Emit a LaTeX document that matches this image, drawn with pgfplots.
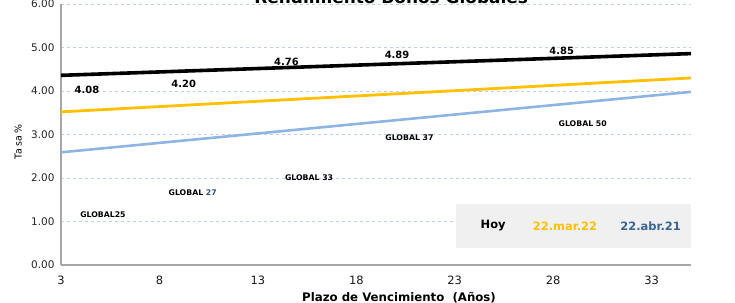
\documentclass[border=0pt]{standalone}
\usepackage{fontspec}
\setmainfont{DejaVu Sans}
\usepackage{pgfplots}
\pgfplotsset{compat=1.18}
\definecolor{cyel}{HTML}{FFC000}
\definecolor{cblu}{HTML}{8EB4E3}
\definecolor{cbtx}{HTML}{3A6396}
\definecolor{cgrid}{HTML}{BCCFEC}
\definecolor{cax}{HTML}{A6A6A6}
\definecolor{cbox}{HTML}{F0F0F0}
\begin{document}
\begin{tikzpicture}[x=1bp,y=1bp]
\begin{axis}[
  scale only axis, width=630bp, height=261bp,
  xmin=3, xmax=35, ymin=0, ymax=6,
  axis x line*=bottom, axis y line*=left,
  axis line style={cax, line width=1.4bp},
  xtick={3,8,13,18,23,28,33},
  ytick={0,1,2,3,4,5,6},
  major tick length=0pt,
  ymajorgrids, grid style={cgrid, dashed, line width=0.6bp},
  yticklabel style={/pgf/number format/fixed,/pgf/number format/fixed zerofill,/pgf/number format/precision=2, font=\fontsize{10.5}{11}\selectfont, text=black!85, xshift=-3bp},
  xticklabel style={font=\fontsize{11.5}{12}\selectfont, text=black!90, yshift=-7bp},
  /pgf/number format/assume math mode=true,
  clip=false,
]
\coordinate (ll) at (axis cs:3,0);
\coordinate (ur) at (axis cs:35,6);
% legend box
\fill[cbox] (axis cs:23.07,1.40) rectangle (axis cs:35,0.39);
\node[font=\bfseries\fontsize{11.5}{12}\selectfont] at (axis cs:24.95,0.90) {Hoy};
\node[font=\bfseries\fontsize{11.5}{12}\selectfont, text=cyel] at (axis cs:28.6,0.90) {22.mar.22};
\node[font=\bfseries\fontsize{11.5}{12}\selectfont, text=cbtx] at (axis cs:32.95,0.90) {22.abr.21};
% lines
\addplot[cblu, line width=2.6bp] coordinates {(3,2.59) (35,3.98)};
\addplot[cyel, line width=2.8bp] coordinates {(3,3.52) (35,4.30)};
\addplot[black, line width=3.6bp] coordinates {(3,4.36) (35,4.86)};
% data labels
\begin{scope}[every node/.style={font=\bfseries\fontsize{10}{11}\selectfont}]
\node at (axis cs:4.32,4.02) {4.08};
\node at (axis cs:9.23,4.16) {4.20};
\node at (axis cs:14.45,4.67) {4.76};
\node at (axis cs:20.07,4.83) {4.89};
\node at (axis cs:28.43,4.92) {4.85};
\end{scope}
\begin{scope}[every node/.style={font=\bfseries\fontsize{7.8}{8}\selectfont}]
\node at (axis cs:5.13,1.16) {GLOBAL25};
\node at (axis cs:9.69,1.66) {GLOBAL \textcolor{cbtx!80!black}{27}};
\node at (axis cs:15.6,2.00) {GLOBAL 33};
\node at (axis cs:20.7,2.92) {GLOBAL 37};
\node at (axis cs:29.5,3.24) {GLOBAL 50};
\end{scope}
% titles
\node[anchor=base, font=\bfseries\fontsize{17}{19}\selectfont] at (axis cs:19.77,6.02) {Rendimiento Bonos Globales};
\node[rotate=90, font=\fontsize{9.5}{10}\selectfont] at (axis cs:0.83,2.83) {Ta sa\,\%};
\node[anchor=base, font=\bfseries\fontsize{11.8}{13}\selectfont] at (axis cs:20.17,-0.84) {Plazo de Vencimiento\ \ (Años)};
\end{axis}
\pgfresetboundingbox
\useasboundingbox ([shift={(-61bp,-38bp)}]ll) rectangle ([shift={(44bp,4bp)}]ur);
\end{tikzpicture}
\end{document}
